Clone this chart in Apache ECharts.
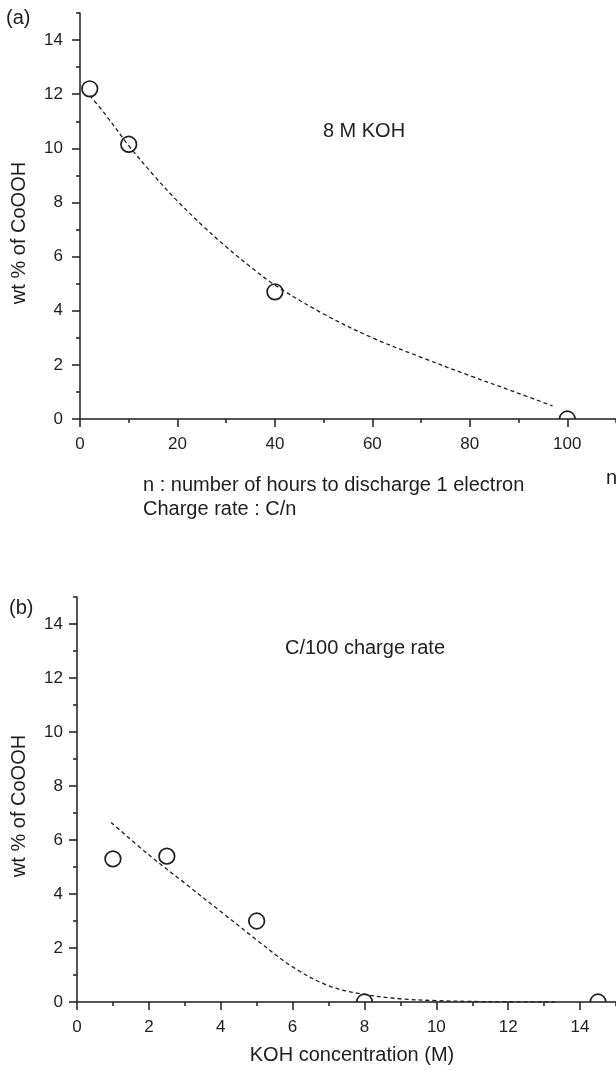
<!DOCTYPE html>
<html>
<head>
<meta charset="utf-8">
<title>CoOOH content</title>
<script src="https://cdn.jsdelivr.net/npm/echarts@6/dist/echarts.min.js"></script>
<style>
  html, body { margin: 0; padding: 0; background: #fff; }
  #chart { width: 616px; height: 1071px; }
</style>
</head>
<body>
<div id="chart"></div>
<script>
// panel (a): 8 M KOH, wt % vs n (charge rate C/n)
const aPointsN = [2, 10, 40, 100]
const aPointsWt = [12.2, 10.15, 4.7, 0]
const aFitN = [2, 5, 10, 15, 20, 25, 30, 35, 40, 50, 60, 70, 80, 90, 97]
const aFitWt = [11.95, 11.3, 10.1, 9.03, 8.05, 7.17, 6.36, 5.62, 4.95, 3.88, 3.0, 2.28, 1.6, 0.95, 0.48]
const aXTicks = [0, 20, 40, 60, 80, 100]
const aXMinor = [10, 30, 50, 70, 90, 110]

// panel (b): C/100 charge rate, wt % vs KOH concentration
const bPointsKoh = [1, 2.5, 5, 8, 14.5]
const bPointsWt = [5.3, 5.4, 3.0, 0, 0]
const bFitKoh = [0.95, 2, 3, 4, 5, 6, 7, 8, 9, 10, 11, 12, 13.3]
const bFitWt = [6.65, 5.45, 4.4, 3.35, 2.3, 1.3, 0.6, 0.28, 0.12, 0.05, 0.02, 0.01, 0]
const bXTicks = [0, 2, 4, 6, 8, 10, 12, 14]
const bXMinor = [1, 3, 5, 7, 9, 11, 13, 15]

const yTicks = [0, 2, 4, 6, 8, 10, 12, 14]
const yMinor = [1, 3, 5, 7, 9, 11, 13, 15]

const ink = '#1e1e1e'
const font = "'Liberation Sans', Arial, sans-serif"
const line = { color: ink, width: 1.5 }

function xAxes(grid, max, major, minor) {
  return [
    {
      gridIndex: grid, type: 'value', min: 0, max: max, position: 'bottom',
      axisLine: { lineStyle: line },
      axisTick: { customValues: major, length: 8, lineStyle: line },
      axisLabel: { customValues: major, margin: 17, fontSize: 17, color: ink, fontFamily: font },
      splitLine: { show: false }
    },
    {
      gridIndex: grid, type: 'value', min: 0, max: max, position: 'bottom',
      axisLine: { show: false },
      axisTick: { customValues: minor, length: 4, lineStyle: line },
      axisLabel: { show: false },
      splitLine: { show: false }
    }
  ]
}

function yAxes(grid, margin) {
  return [
    {
      gridIndex: grid, type: 'value', min: 0, max: 15, position: 'left',
      axisLine: { show: true, lineStyle: line },
      axisTick: { customValues: yTicks, length: 8, lineStyle: line },
      axisLabel: { customValues: yTicks, margin: margin, fontSize: 17, color: ink, fontFamily: font },
      splitLine: { show: false }
    },
    {
      gridIndex: grid, type: 'value', min: 0, max: 15, position: 'left',
      axisLine: { show: false },
      axisTick: { customValues: yMinor, length: 4, lineStyle: line },
      axisLabel: { show: false },
      splitLine: { show: false }
    }
  ]
}

// open circles, clipped to the plot area like the original
function circles(xi, yi, xs, ys) {
  return {
    type: 'custom', xAxisIndex: xi, yAxisIndex: yi, clip: true, z: 3,
    data: xs.map((x, i) => [x, ys[i]]),
    renderItem: function (params, api) {
      const p = api.coord([api.value(0), api.value(1)])
      return {
        type: 'circle',
        shape: { cx: p[0], cy: p[1], r: 7.8 },
        style: { fill: 'none', stroke: ink, lineWidth: 1.7 }
      }
    }
  }
}

function fit(xi, yi, xs, ys) {
  return {
    type: 'line', xAxisIndex: xi, yAxisIndex: yi, smooth: 0.35,
    symbol: 'none', z: 2,
    lineStyle: { color: ink, width: 1.3, type: [4, 3] },
    data: xs.map((x, i) => [x, ys[i]])
  }
}

function label(text, x, y, extra) {
  const el = {
    type: 'text', x: x, y: y,
    style: { text: text, fontSize: 20, fontFamily: font, fill: ink, align: 'left', verticalAlign: 'middle' }
  }
  if (extra && extra.align) el.style.align = extra.align
  if (extra && extra.rotation) el.rotation = extra.rotation
  return el
}

const chart = echarts.init(document.getElementById('chart'))

chart.setOption({
  animation: false,
  backgroundColor: '#fff',
  grid: [
    { left: 80, right: -2, top: 13, height: 406 },
    { left: 77, right: -3, top: 597, height: 405 }
  ],
  xAxis: [].concat(xAxes(0, 110, aXTicks, aXMinor), xAxes(1, 15, bXTicks, bXMinor)),
  yAxis: [].concat(yAxes(0, 17), yAxes(1, 14)),
  series: [
    fit(0, 0, aFitN, aFitWt),
    circles(0, 0, aPointsN, aPointsWt),
    fit(2, 2, bFitKoh, bFitWt),
    circles(2, 2, bPointsKoh, bPointsWt)
  ],
  graphic: [
    label('(a)', 6, 18),
    label('(b)', 9, 608),
    label('8 M KOH', 364, 131, { align: 'center' }),
    label('C/100 charge rate', 365, 648, { align: 'center' }),
    label('n', 606, 478),
    label('n : number of hours to discharge 1 electron', 143, 485),
    label('Charge rate : C/n', 143, 509),
    label('KOH concentration (M)', 352, 1055, { align: 'center' }),
    label('wt % of CoOOH', 19, 233, { align: 'center', rotation: Math.PI / 2 }),
    label('wt % of CoOOH', 19, 806, { align: 'center', rotation: Math.PI / 2 })
  ]
})
</script>
</body>
</html>
